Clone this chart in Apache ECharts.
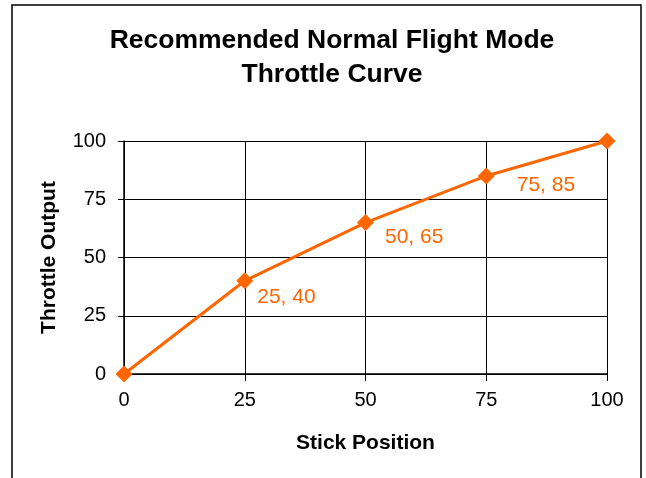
<!DOCTYPE html>
<html>
<head>
<meta charset="utf-8">
<script src="https://cdn.jsdelivr.net/npm/echarts@6/dist/echarts.min.js"></script>
<style>
  html, body { margin: 0; padding: 0; background: #fff; }
  #main { width: 646px; height: 478px; }
</style>
</head>
<body>
<div id="main"></div>
<script>
// values
const stickPosition = [0, 25, 50, 75, 100];
const throttleOutput = [0, 40, 65, 85, 100];
const labelledPoints = [1, 2, 3];
const xTicks = [0, 25, 50, 75, 100];
const yTicks = [0, 25, 50, 75, 100];

// where each data label sits next to its point (style only)
const labelOffsets = { 1: [4, 16], 2: [11, 15], 3: [22, 9] };

const font = '"Liberation Sans", Arial, sans-serif';
const orange = '#FF6600';

const seriesData = stickPosition.map((x, i) => {
  const item = { value: [x, throttleOutput[i]] };
  if (labelledPoints.includes(i)) {
    item.label = {
      show: true,
      position: 'right',
      distance: 0,
      offset: labelOffsets[i],
      formatter: x + ', ' + throttleOutput[i]
    };
  }
  return item;
});

const myChart = echarts.init(document.getElementById('main'));
const options = {
  animation: false,
  textStyle: { fontFamily: font },
  title: {
    text: 'Recommended Normal Flight Mode\nThrottle Curve',
    left: 327,
    textAlign: 'center',
    top: 19,
    textStyle: {
      fontFamily: font,
      fontSize: 26.5,
      fontWeight: 'bold',
      lineHeight: 34,
      color: '#000'
    }
  },
  graphic: {
    elements: [
      {
        type: 'rect',
        shape: { x: 12, y: 5, width: 629, height: 520 },
        style: { fill: 'none', stroke: '#000', lineWidth: 1.5 },
        silent: true
      }
    ]
  },
  grid: { left: 124, right: 39, top: 141, bottom: 104, containLabel: false },
  xAxis: {
    type: 'value',
    min: xTicks[0],
    max: xTicks[xTicks.length - 1],
    interval: 25,
    name: 'Stick Position',
    nameLocation: 'middle',
    nameGap: 59,
    nameTextStyle: { fontFamily: font, fontSize: 21, fontWeight: 'bold', color: '#000' },
    axisLine: { show: true, lineStyle: { color: '#000', width: 1.5 } },
    axisTick: { show: true, length: 7, lineStyle: { color: '#000' } },
    axisLabel: { margin: 16, fontSize: 20, color: '#000', fontFamily: font },
    splitLine: { show: true, lineStyle: { color: '#000', width: 1 } }
  },
  yAxis: {
    type: 'value',
    min: yTicks[0],
    max: yTicks[yTicks.length - 1],
    interval: 25,
    name: 'Throttle Output',
    nameLocation: 'middle',
    nameGap: 64,
    nameTextStyle: { fontFamily: font, fontSize: 21, fontWeight: 'bold', color: '#000' },
    axisLine: { show: true, lineStyle: { color: '#000', width: 1.5 } },
    axisTick: { show: true, length: 6, lineStyle: { color: '#000' } },
    axisLabel: { margin: 18, fontSize: 20, color: '#000', fontFamily: font },
    splitLine: { show: true, lineStyle: { color: '#000', width: 1 } }
  },
  series: [
    {
      type: 'line',
      data: seriesData,
      symbol: 'diamond',
      symbolSize: 17,
      clip: false,
      lineStyle: { color: orange, width: 3 },
      itemStyle: { color: orange },
      label: {
        show: false,
        fontSize: 21,
        color: orange,
        fontFamily: font
      }
    }
  ]
};
myChart.setOption(options);
</script>
</body>
</html>
